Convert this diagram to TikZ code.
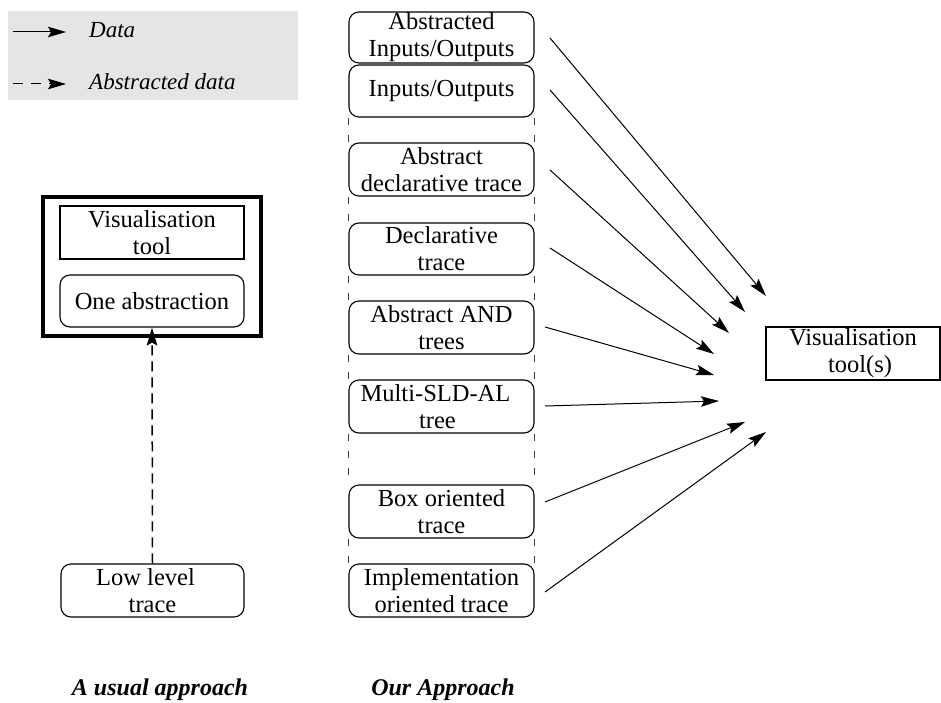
\documentclass[tikz,border=0pt]{standalone}
\usepackage{fontspec}
\setmainfont{Liberation Serif}
\usetikzlibrary{arrows.meta}
\definecolor{legendgray}{RGB}{229,229,229}
\definecolor{dashgray}{RGB}{60,60,60}
\newcommand\boxfont{\fontsize{24.5}{27}\selectfont}
\begin{document}
\begin{tikzpicture}[x=1pt,y=-1pt,
  box/.style={draw, line width=1.1pt, inner sep=0pt, align=center, font=\boxfont},
  rbox/.style={box, rounded corners=10pt},
  colbox/.style={rbox, minimum width=185pt},
  arr/.style={-{Stealth[length=18pt,width=10.5pt,inset=3pt]}, line width=1pt},
  dasharr/.style={arr, line width=1.5pt, dash pattern=on 10pt off 6pt},
  coldash/.style={draw=dashgray, line width=1.6pt, dash pattern=on 7pt off 10pt},
  legtext/.style={anchor=base west, font=\fontsize{23}{26}\selectfont\itshape, inner sep=0pt},
  caption/.style={anchor=base, font=\fontsize{24}{27}\selectfont\bfseries\itshape, inner sep=0pt}]
\useasboundingbox (0,0) rectangle (941,703);

% legend
\fill[legendgray] (8,11) rectangle (298,100);
\coordinate (l1a) at (13,32);  \coordinate (l1b) at (66,32);
\coordinate (l2a) at (13,84);  \coordinate (l2b) at (66,84);
\draw[arr] (l1a) -- (l1b);
\draw[arr, dash pattern=on 10pt off 8pt] (l2a) -- (l2b);
\node[legtext] (ld) at (89,38) {Data};
\node[legtext] (lad) at (89,90) {Abstracted data};

% left: usual approach
\node[draw, line width=4pt, minimum width=218pt, minimum height=139pt, inner sep=0pt] (frame) at (152,266.5) {};
\node[box, minimum width=184pt, minimum height=53pt] (vt) at (152,232.5) {Visualisation\\tool};
\node[rbox, minimum width=184pt, minimum height=52pt] (one) at (152,301) {One abstraction};
\node[rbox, minimum width=183pt, minimum height=53pt] (low) at (152.5,590.5) {Low level\hspace*{14pt}\\trace};
\draw[dasharr] (low.north) -- (one.south);

% column: our approach
\node[colbox, minimum height=51pt] (b1) at (441.5,37.5) {Abstracted\\Inputs/Outputs};
\node[colbox, minimum height=52pt] (b2) at (441.5,91) {Inputs/Outputs};
\node[colbox, minimum height=53pt] (b3) at (441.5,169.5) {Abstract\\declarative trace};
\node[colbox, minimum height=52pt] (b4) at (441.5,249) {Declarative\\trace};
\node[colbox, minimum height=53pt] (b5) at (441.5,327.5) {Abstract AND\\trees};
\node[colbox, minimum height=53pt] (b6) at (441.5,406.5) {Multi-SLD-AL\hspace*{12pt}\\tree\hspace*{8pt}};
\node[colbox, minimum height=53pt] (b7) at (441.5,511.5) {Box oriented\\trace};
\node[colbox, minimum height=53pt] (b8) at (441.5,590.5) {Implementation\\oriented trace};

\foreach \a/\b in {b2/b3,b3/b4,b4/b5,b5/b6,b6/b7,b7/b8}{
  \draw[coldash] (\a.south west) -- (\b.north west);
  \draw[coldash] (\a.south east) -- (\b.north east);
}

% right box
\node[box, minimum width=174pt, minimum height=53pt] (vts) at (853,353.5) {Visualisation\\\hspace*{14pt}tool(s)};

% arrows
\coordinate (s1) at (550,38);  \coordinate (e1) at (766,296);
\coordinate (s2) at (550,90);  \coordinate (e2) at (745,312);
\coordinate (s3) at (550,170); \coordinate (e3) at (729,333);
\coordinate (s4) at (550,248); \coordinate (e4) at (714,354);
\coordinate (s5) at (545,327); \coordinate (e5) at (714,375);
\coordinate (s6) at (545,406); \coordinate (e6) at (719,401);
\coordinate (s7) at (545,502); \coordinate (e7) at (745,422);
\coordinate (s8) at (545,592); \coordinate (e8) at (766,432);
\foreach \i in {1,...,8}{\draw[arr] (s\i) -- (e\i);}

% captions
\node[caption] (c1) at (160,695) {A usual approach};
\node[caption] (c2) at (443,695) {Our Approach};
\end{tikzpicture}
\end{document}
